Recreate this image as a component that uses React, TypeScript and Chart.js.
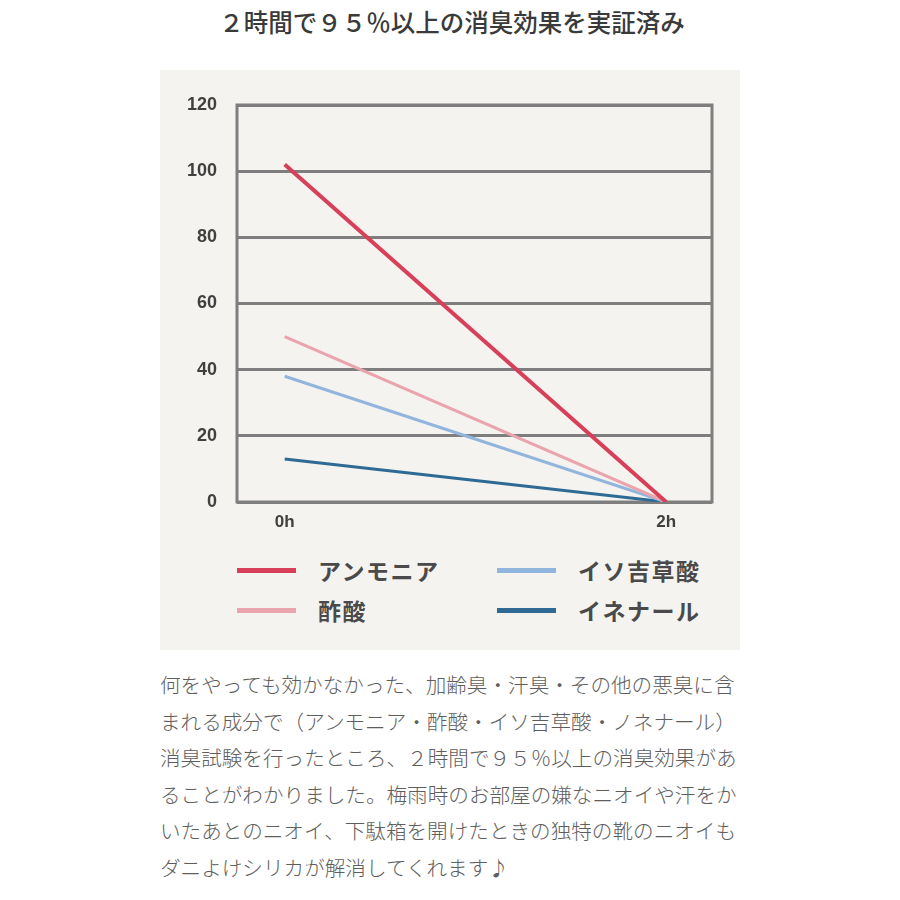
import React, { useEffect, useRef } from "react";
import { Chart, registerables } from "chart.js";

Chart.register(...registerables);

const titleText = "２時間で９５％以上の消臭効果を実証済み";
const timeLabels = ["0h", "2h"];
const timeHours = [0, 2];
const seriesNames = ["アンモニア", "酢酸", "イソ吉草酸", "イネナール"];
const ammonia = [102, 0];
const aceticAcid = [50, 0];
const isovalericAcid = [38, 0];
const nonenal = [13, 0];
const seriesColors = ["#d8405a", "#eaa4ae", "#92b5de", "#2f6a95"];
const yTickValues = [0, 20, 40, 60, 80, 100, 120];
const bodyLines = [
  "何をやっても効かなかった、加齢臭・汗臭・その他の悪臭に含",
  "まれる成分で（アンモニア・酢酸・イソ吉草酸・ノネナール）",
  "消臭試験を行ったところ、２時間で９５％以上の消臭効果があ",
  "ることがわかりました。梅雨時のお部屋の嫌なニオイや汗をか",
  "いたあとのニオイ、下駄箱を開けたときの独特の靴のニオイも",
  "ダニよけシリカが解消してくれます♪",
];

const seriesValues = [ammonia, aceticAcid, isovalericAcid, nonenal];
const JP = '"Noto Sans CJK JP", "Noto Sans", sans-serif';
const GRID = "#7e7e7e";

const frameBox = {
  id: "frameBox",
  beforeDatasetsDraw(chart: any) {
    const { ctx, chartArea } = chart;
    ctx.save();
    ctx.strokeStyle = GRID;
    ctx.lineWidth = 3;
    ctx.strokeRect(chartArea.left, chartArea.top, chartArea.right - chartArea.left, chartArea.bottom - chartArea.top);
    ctx.restore();
  },
};

export default function App() {
  const ref = useRef<HTMLCanvasElement | null>(null);

  useEffect(() => {
    if (!ref.current) return;
    const chart = new Chart(ref.current, {
      type: "line",
      data: {
        datasets: seriesNames.map((name, i) => ({
          label: name,
          data: timeHours.map((h, j) => ({ x: h, y: seriesValues[i][j] })),
          borderColor: seriesColors[i],
          backgroundColor: seriesColors[i],
          borderWidth: i === 0 ? 4 : 3,
          pointRadius: 0,
          tension: 0,
        })),
      },
      plugins: [frameBox],
      options: {
        responsive: false,
        animation: false,
        maintainAspectRatio: false,
        layout: { padding: { left: 0, right: 28, top: 25, bottom: 0 } },
        plugins: { legend: { display: false }, tooltip: { enabled: false }, title: { display: false } },
        scales: {
          x: {
            type: "linear",
            min: -0.25,
            max: 2.24,
            afterBuildTicks: (scale: any) => {
              scale.ticks = timeHours.map((v) => ({ value: v }));
            },
            afterFit: (scale: any) => {
              scale.height = 38;
              scale.paddingLeft = 0;
              scale.paddingRight = 0;
            },
            grid: { display: false, drawTicks: false },
            border: { display: false },
            ticks: {
              padding: 10,
              color: "#404040",
              font: { family: '"Liberation Sans", Arial, sans-serif', size: 17, weight: "bold" },
              callback: (v: any) => {
                const idx = timeHours.indexOf(Number(v));
                return idx >= 0 ? timeLabels[idx] : "";
              },
            },
          },
          y: {
            min: 0,
            max: 120,
            afterBuildTicks: (scale: any) => {
              scale.ticks = yTickValues.map((v) => ({ value: v }));
            },
            afterFit: (scale: any) => {
              scale.width = 77;
              scale.paddingTop = 0;
              scale.paddingBottom = 0;
            },
            grid: { color: GRID, lineWidth: 3, drawTicks: false },
            border: { display: false },
            ticks: {
              padding: 20,
              color: "#404040",
              font: { family: '"Liberation Sans", Arial, sans-serif', size: 18, weight: "bold" },
            },
          },
        },
      },
    });
    return () => chart.destroy();
  }, []);

  return (
    <div style={{ position: "absolute", left: 0, top: 0, width: 900, height: 900, background: "#fff", fontFamily: JP }}>
      <div
        style={{
          position: "absolute",
          left: 0,
          top: 6,
          width: 904,
          textAlign: "center",
          fontSize: 24.5,
          lineHeight: "32px",
          fontWeight: 500,
          color: "#3a3a3a",
          whiteSpace: "nowrap",
        }}
      >
        {titleText}
      </div>
      <div style={{ position: "absolute", left: 160, top: 70, width: 580, height: 580, background: "#f4f3ef" }}>
        <canvas ref={ref} width={580} height={460} style={{ position: "absolute", left: 0, top: 10, width: 580, height: 460 }} />
        {seriesNames.map((name, i) => {
          const col = Math.floor(i / 2);
          const row = i % 2;
          const left = 77 + col * 260;
          const top = 500 + row * 40;
          return (
            <div key={name} style={{ position: "absolute", left, top: top - 16, height: 32, display: "flex", alignItems: "center" }}>
              <div style={{ width: 59, height: 5, background: seriesColors[i] }} />
              <div
                style={{
                  marginLeft: 22,
                  fontSize: 23,
                  fontWeight: 700,
                  color: "#4a4a4a",
                  whiteSpace: "nowrap",
                  letterSpacing: 1.5,
                }}
              >
                {name}
              </div>
            </div>
          );
        })}
      </div>
      <div style={{ position: "absolute", left: 160, top: 666, width: 600, color: "#5e5e5e", fontSize: 20.6, lineHeight: "36.6px", fontWeight: 300 }}>
        {bodyLines.map((line, i) => (
          <div key={i} style={{ whiteSpace: "nowrap" }}>
            {line}
          </div>
        ))}
      </div>
    </div>
  );
}
